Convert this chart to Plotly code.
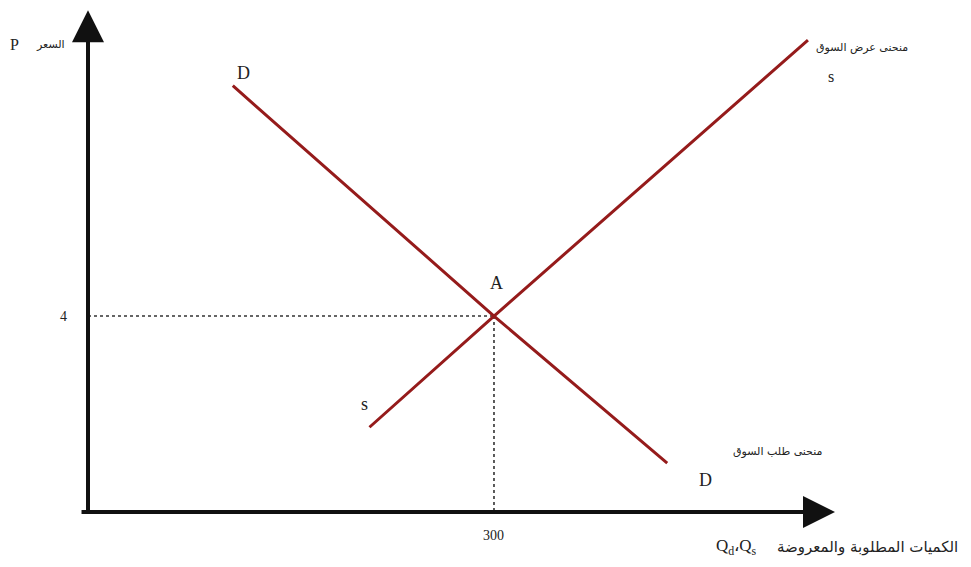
import plotly.graph_objects as go

# ---- data ----
demand_q = [107, 300, 428]
demand_p = [8.7, 4.0, 1.0]
supply_q = [208, 300, 532]
supply_p = [1.73, 4.0, 9.63]
eq_q = 300
eq_p = 4
tick_price = "4"
tick_qty = "300"

LINE = "#951b1b"
TXT = "#222222"
SERIF = "Liberation Serif, DejaVu Serif, serif"
AR = "DejaVu Sans, Noto Sans, sans-serif"

# axis extents (data units)
X_MIN, X_MAX = -20.69, 584.5
Y_MIN, Y_MAX = -0.673, 10.286
x_axis_start, x_axis_tip = -5.9, 552
y_axis_start, y_axis_tip = -0.06, 10.24

fig = go.Figure()

# dotted guides
fig.add_trace(go.Scatter(x=[0, eq_q], y=[eq_p, eq_p], mode="lines",
                         line=dict(color="#333", width=1.6, dash="dot"), hoverinfo="skip"))
fig.add_trace(go.Scatter(x=[eq_q, eq_q], y=[eq_p, 0], mode="lines",
                         line=dict(color="#333", width=1.6, dash="dot"), hoverinfo="skip"))

# curves
fig.add_trace(go.Scatter(x=demand_q, y=demand_p, mode="lines",
                         line=dict(color=LINE, width=3), hoverinfo="skip"))
fig.add_trace(go.Scatter(x=supply_q, y=supply_p, mode="lines",
                         line=dict(color=LINE, width=3), hoverinfo="skip"))

ann = []
# axes with arrowheads
ann.append(dict(x=x_axis_tip, y=0, ax=x_axis_start, ay=0, xref="x", yref="y",
                axref="x", ayref="y", showarrow=True, arrowhead=2, arrowsize=1.6,
                arrowwidth=4, arrowcolor="#111", text=""))
ann.append(dict(x=0, y=y_axis_tip, ax=0, ay=y_axis_start, xref="x", yref="y",
                axref="x", ayref="y", showarrow=True, arrowhead=2, arrowsize=1.6,
                arrowwidth=4, arrowcolor="#111", text=""))

def lab(x, y, text, dx, dy, size=16, font=SERIF, xanchor="center"):
    ann.append(dict(x=x, y=y, xref="x", yref="y", text=text, showarrow=False,
                    xshift=dx, yshift=dy, xanchor=xanchor, yanchor="middle",
                    font=dict(family=font, size=size, color=TXT)))

lab(eq_q, eq_p, "A", 3, 33, size=18)
lab(0, eq_p, tick_price, -19, 0, size=14, xanchor="right")
lab(eq_q, 0, tick_qty, 0, -23, size=14)
lab(demand_q[0], demand_p[0], "D", 11, 13, size=18)
lab(demand_q[-1], demand_p[-1], "D", 38, -17, size=18)
lab(demand_q[-1], demand_p[-1], "منحنى طلب السوق", 111, 12, size=11, font=AR)
lab(supply_q[0], supply_p[0], "s", -5, 23, size=18)
lab(supply_q[-1], supply_p[-1], "s", 23, -36, size=16)
lab(supply_q[-1], supply_p[-1], "منحنى عرض السوق", 54, -7, size=11, font=AR)
lab(0, y_axis_tip, "P", -74, -34, size=16)
lab(0, y_axis_tip, "السعر", -38, -34, size=11, font=AR)
lab(x_axis_tip, 0, "Q<sub>d</sub>،Q<sub>s</sub>", -99, -35, size=17)
lab(x_axis_tip, 0, "الكميات المطلوبة والمعروضة", -60, -35, size=15, font=AR, xanchor="left")

fig.update_layout(
    width=971, height=567,
    margin=dict(l=52, r=100, t=0, b=30, autoexpand=False),
    paper_bgcolor="white", plot_bgcolor="white",
    showlegend=False,
    xaxis=dict(range=[X_MIN, X_MAX], visible=False, fixedrange=True),
    yaxis=dict(range=[Y_MIN, Y_MAX], visible=False, fixedrange=True),
    annotations=ann,
)

fig.write_html("out.html")
